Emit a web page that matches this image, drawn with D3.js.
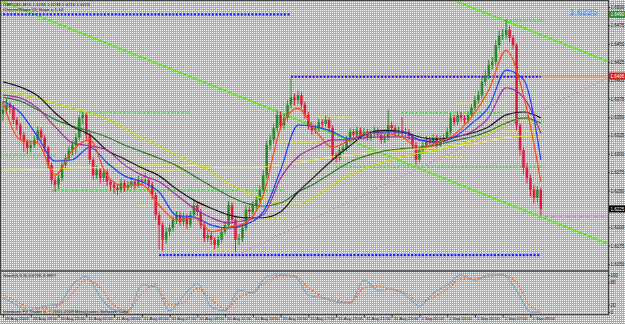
<!DOCTYPE html>
<html>
<head>
<meta charset="utf-8">
<script src="https://cdn.jsdelivr.net/npm/d3@7"></script>
<style>
html, body { margin: 0; padding: 0; background: #fff; }
svg { display: block; font-family: "Liberation Sans", Arial, sans-serif; }
.axis path, .axis line { stroke: #333; }
.axis text { fill: #222; font-size: 4.5px; }
</style>
</head>
<body>
<div id="chart"></div>
<script>
// ============================================================================
// GBPUSD M15 chart - candles, moving averages, levels, stochastic
// ============================================================================

const open = [1.6355,1.6360,1.6367,1.6363,1.6346,1.6339,1.6326,1.6316,1.6308,1.6312,
1.6319,1.6332,1.6322,1.6308,1.6285,1.6264,1.6258,1.6267,1.6285,1.6294,
1.6305,1.6312,1.6322,1.6349,1.6353,1.6326,1.6292,1.6271,1.6278,1.6267,
1.6275,1.6262,1.6258,1.6254,1.6251,1.6260,1.6254,1.6258,1.6262,1.6258,
1.6264,1.6262,1.6264,1.6258,1.6244,1.6217,1.6203,1.6183,1.6194,1.6199,
1.6210,1.6217,1.6207,1.6214,1.6204,1.6217,1.6230,1.6221,1.6203,1.6185,
1.6189,1.6183,1.6176,1.6183,1.6194,1.6203,1.6230,1.6210,1.6183,1.6185,
1.6199,1.6224,1.6221,1.6230,1.6237,1.6251,1.6271,1.6312,1.6319,1.6335,
1.6353,1.6339,1.6349,1.6367,1.6377,1.6373,1.6380,1.6367,1.6353,1.6339,
1.6332,1.6335,1.6343,1.6341,1.6346,1.6335,1.6298,1.6294,1.6305,1.6308,
1.6319,1.6330,1.6326,1.6332,1.6324,1.6330,1.6322,1.6327,1.6332,1.6326,
1.6319,1.6322,1.6339,1.6335,1.6328,1.6332,1.6327,1.6330,1.6324,1.6312,
1.6292,1.6305,1.6311,1.6319,1.6315,1.6322,1.6312,1.6319,1.6322,1.6330,
1.6349,1.6343,1.6353,1.6349,1.6346,1.6353,1.6363,1.6373,1.6380,1.6398,
1.6407,1.6421,1.6425,1.6448,1.6461,1.6462,1.6469,1.6458,1.6448,1.6339,
1.6305,1.6281,1.6267,1.6251,1.6240,1.6251];

const high = [1.6372,1.6375,1.6371,1.6366,1.6350,1.6342,1.6330,1.6320,1.6318,1.6324,
1.6338,1.6336,1.6326,1.6311,1.6288,1.6270,1.6272,1.6290,1.6299,1.6310,
1.6318,1.6328,1.6353,1.6358,1.6356,1.6330,1.6296,1.6284,1.6282,1.6281,
1.6279,1.6266,1.6262,1.6258,1.6266,1.6264,1.6263,1.6268,1.6266,1.6270,
1.6268,1.6275,1.6268,1.6262,1.6248,1.6221,1.6207,1.6200,1.6204,1.6215,
1.6222,1.6221,1.6220,1.6218,1.6222,1.6238,1.6234,1.6225,1.6207,1.6195,
1.6193,1.6187,1.6188,1.6199,1.6208,1.6236,1.6234,1.6214,1.6191,1.6204,
1.6230,1.6229,1.6236,1.6243,1.6257,1.6278,1.6318,1.6326,1.6341,1.6360,
1.6358,1.6355,1.6373,1.6403,1.6382,1.6386,1.6384,1.6371,1.6357,1.6343,
1.6340,1.6348,1.6347,1.6352,1.6350,1.6339,1.6302,1.6310,1.6313,1.6324,
1.6335,1.6334,1.6337,1.6336,1.6335,1.6334,1.6332,1.6337,1.6336,1.6330,
1.6327,1.6360,1.6344,1.6339,1.6337,1.6350,1.6335,1.6334,1.6327,1.6316,
1.6310,1.6316,1.6324,1.6323,1.6327,1.6326,1.6324,1.6327,1.6336,1.6355,
1.6353,1.6358,1.6357,1.6353,1.6358,1.6368,1.6379,1.6386,1.6404,1.6414,
1.6428,1.6432,1.6455,1.6468,1.6470,1.6483,1.6474,1.6462,1.6451,1.6342,
1.6309,1.6288,1.6272,1.6258,1.6256,1.6254];

const low = [1.6345,1.6356,1.6355,1.6340,1.6332,1.6320,1.6303,1.6300,1.6302,1.6308,
1.6315,1.6318,1.6302,1.6280,1.6258,1.6248,1.6252,1.6262,1.6280,1.6290,
1.6298,1.6300,1.6318,1.6340,1.6320,1.6286,1.6265,1.6266,1.6260,1.6262,
1.6256,1.6250,1.6246,1.6244,1.6247,1.6248,1.6250,1.6253,1.6252,1.6254,
1.6256,1.6258,1.6252,1.6238,1.6210,1.6170,1.6168,1.6178,1.6188,1.6194,
1.6205,1.6202,1.6202,1.6198,1.6200,1.6212,1.6216,1.6198,1.6180,1.6180,
1.6176,1.6170,1.6172,1.6179,1.6190,1.6198,1.6205,1.6166,1.6176,1.6180,
1.6195,1.6214,1.6217,1.6225,1.6232,1.6246,1.6266,1.6305,1.6314,1.6330,
1.6333,1.6334,1.6344,1.6362,1.6366,1.6368,1.6362,1.6348,1.6333,1.6326,
1.6327,1.6330,1.6336,1.6337,1.6330,1.6292,1.6288,1.6290,1.6300,1.6304,
1.6315,1.6321,1.6322,1.6320,1.6320,1.6318,1.6318,1.6323,1.6322,1.6314,
1.6315,1.6318,1.6330,1.6324,1.6324,1.6322,1.6322,1.6319,1.6306,1.6285,
1.6288,1.6300,1.6307,1.6310,1.6311,1.6307,1.6308,1.6315,1.6318,1.6326,
1.6338,1.6339,1.6344,1.6341,1.6342,1.6349,1.6359,1.6368,1.6375,1.6393,
1.6402,1.6415,1.6420,1.6443,1.6455,1.6457,1.6452,1.6442,1.6332,1.6298,
1.6272,1.6260,1.6242,1.6233,1.6234,1.6216];

const close = [1.6360,1.6367,1.6363,1.6346,1.6339,1.6326,1.6316,1.6308,1.6312,1.6319,
1.6332,1.6322,1.6308,1.6285,1.6264,1.6258,1.6267,1.6285,1.6294,1.6305,
1.6312,1.6322,1.6349,1.6353,1.6326,1.6292,1.6271,1.6278,1.6267,1.6275,
1.6262,1.6258,1.6254,1.6251,1.6260,1.6254,1.6258,1.6262,1.6258,1.6264,
1.6262,1.6264,1.6258,1.6244,1.6217,1.6203,1.6183,1.6194,1.6199,1.6210,
1.6217,1.6207,1.6214,1.6204,1.6217,1.6230,1.6221,1.6203,1.6185,1.6189,
1.6183,1.6176,1.6183,1.6194,1.6203,1.6230,1.6210,1.6183,1.6185,1.6199,
1.6224,1.6221,1.6230,1.6237,1.6251,1.6271,1.6312,1.6319,1.6335,1.6353,
1.6339,1.6349,1.6367,1.6377,1.6373,1.6380,1.6367,1.6353,1.6339,1.6332,
1.6335,1.6343,1.6341,1.6346,1.6335,1.6298,1.6294,1.6305,1.6308,1.6319,
1.6330,1.6326,1.6332,1.6324,1.6330,1.6322,1.6327,1.6332,1.6326,1.6319,
1.6322,1.6339,1.6335,1.6328,1.6332,1.6327,1.6330,1.6324,1.6312,1.6292,
1.6305,1.6311,1.6319,1.6315,1.6322,1.6312,1.6319,1.6322,1.6330,1.6349,
1.6343,1.6353,1.6349,1.6346,1.6353,1.6363,1.6373,1.6380,1.6398,1.6407,
1.6421,1.6425,1.6448,1.6461,1.6462,1.6469,1.6458,1.6448,1.6339,1.6305,
1.6281,1.6267,1.6251,1.6240,1.6251,1.6225];

// Moving averages, sampled every 5 bars
const maBars = [0,5,10,15,20,25,30,35,40,45,50,55,60,65,70,75,80,85,90,95,100,105,110,115,120,125,130,135,140,145,150,155];
const maFast = [1.6371,1.6319,1.6315,1.6271,1.6305,1.6319,1.6270,1.6256,1.6258,1.6230,1.6210,1.6213,1.6194,1.6200,1.6206,1.6244,
1.6335,1.6362,1.6332,1.6309,1.6319,1.6328,1.6328,1.6323,1.6308,1.6315,1.6326,1.6350,1.6387,1.6441,1.6380,1.6262];
const maBlue = [1.6372,1.6356,1.6323,1.6290,1.6292,1.6309,1.6288,1.6270,1.6262,1.6248,1.6216,1.6214,1.6203,1.6199,1.6204,1.6221,
1.6278,1.6339,1.6337,1.6330,1.6320,1.6327,1.6330,1.6330,1.6319,1.6316,1.6323,1.6341,1.6364,1.6414,1.6401,1.6292];
const maPurple = [1.6380,1.6376,1.6362,1.6337,1.6315,1.6311,1.6305,1.6285,1.6271,1.6262,1.6244,1.6226,1.6213,1.6206,1.6210,1.6217,
1.6267,1.6296,1.6309,1.6319,1.6319,1.6322,1.6323,1.6323,1.6319,1.6316,1.6322,1.6330,1.6350,1.6390,1.6377,1.6328];
const maBlack = [1.6398,1.6391,1.6379,1.6356,1.6337,1.6326,1.6305,1.6293,1.6281,1.6270,1.6252,1.6237,1.6226,1.6217,1.6213,1.6213,
1.6221,1.6248,1.6270,1.6292,1.6311,1.6328,1.6332,1.6330,1.6323,1.6320,1.6323,1.6328,1.6337,1.6353,1.6357,1.6349];
const maGreen = [1.6377,1.6372,1.6360,1.6347,1.6338,1.6331,1.6323,1.6312,1.6303,1.6294,1.6284,1.6270,1.6256,1.6243,1.6233,1.6229,
1.6233,1.6248,1.6260,1.6275,1.6289,1.6298,1.6304,1.6307,1.6309,1.6312,1.6318,1.6323,1.6331,1.6342,1.6349,1.6342];
const maLime = [1.6387,1.6381,1.6376,1.6369,1.6362,1.6356,1.6347,1.6335,1.6322,1.6311,1.6298,1.6288,1.6275,1.6260,1.6248,1.6239,
1.6233,1.6232,1.6243,1.6258,1.6271,1.6281,1.6289,1.6296,1.6301,1.6305,1.6311,1.6318,1.6327,1.6341,1.6349,1.6335];
const maPale = [1.6278,1.6278,1.6279,1.6279,1.6281,1.6281,1.6282,1.6284,1.6285,1.6285,1.6285,1.6284,1.6282,1.6281,1.6281,1.6282,
1.6285,1.6288,1.6292,1.6296,1.6298,1.6301,1.6304,1.6305,1.6307,1.6308,1.6311,1.6313,1.6318,1.6322,1.6324,1.6323];

// Horizontal level segments (bar from, bar to, price)
const levelKind  = ['blue','blue','blue','green','green','green','green','green','green',
                    'yellow','yellow','yellow','yellow','yellow','yellow','yellow','yellow','yellow','yellow'];
const levelFrom  = [-1, 83, 45, 22, -1, 14, 115, 96, 145, -1, 39, 39, 60, 76, 80, 91, 131, 126, 144];
const levelTo    = [83, 155, 155, 54, 15, 81, 144, 156, 156, 21, 53, 43, 66, 82, 91, 101, 144, 133, 156];
const levelPrice = [1.6490, 1.6405, 1.6162, 1.6357, 1.6298, 1.6250, 1.6356, 1.6282, 1.6481,
                    1.6339, 1.6278, 1.6230, 1.6169, 1.6212, 1.6316, 1.6350, 1.6369, 1.6296, 1.6331];

// Trend lines: two anchors each (bar, price)
const trendBars   = [[0, 155], [131, 155], [68.3, 155]];
const trendPrices = [[1.6507, 1.6214], [1.6507, 1.6462], [1.6164, 1.6360]];

// Stochastic(5,3,3), sampled every 4 bars
const stBars = [0,4,8,12,16,20,24,28,32,36,40,44,48,52,56,60,64,68,72,76,80,84,88,92,96,100,104,108,112,116,120,124,128,132,136,140,144,148,152,155];
const stochMain = [38,19,5,16,22,73,97,41,5,0,73,68,3,43,78,14,3,59,51,97,100,97,46,38,27,24,86,59,62,46,16,51,73,100,86,100,100,59,0,0];
const stochSignal = [45,28,12,10,18,50,88,65,18,4,50,75,20,25,65,35,8,40,55,82,98,98,65,42,32,25,65,70,60,52,28,40,62,90,90,95,100,80,15,3];

const priceTicks = [1.6500,1.6475,1.6450,1.6425,1.6400,1.6375,1.6350,1.6325,1.6300,1.6275,1.6250,1.6225,1.6200,1.6175,1.6150];
const timeBars = [0,8,16,24,32,40,48,56,64,72,80,88,96,104,112,120,128,136,144,152];
const timeLabels = ['28 Aug 2009','28 Aug 19:00','30 Aug 23:00','31 Aug 01:00','31 Aug 03:00','31 Aug 05:00',
  '31 Aug 07:00','31 Aug 09:00','31 Aug 11:00','31 Aug 13:00','31 Aug 15:00','31 Aug 17:00','31 Aug 19:00',
  '31 Aug 21:00','31 Aug 23:00','1 Sep 01:00','1 Sep 03:00','1 Sep 05:00','1 Sep 07:00','1 Sep 09:00'];

const bidPrice = 1.6225;
const orangeLevel = 1.6406;
const steelLevel = 1.6483;
const pinkLevel = 1.6215;

// ----------------------------------------------------------------------------
const W = 625, H = 324;
const svg = d3.select('#chart').append('svg').attr('width', W).attr('height', H);
const defs = svg.append('defs');

const pat = defs.append('pattern').attr('id', 'dots')
    .attr('width', 2).attr('height', 2).attr('patternUnits', 'userSpaceOnUse');
pat.append('rect').attr('width', 2).attr('height', 2).attr('fill', '#a3b4a3');
pat.append('rect').attr('width', 1).attr('height', 1).attr('fill', '#ffffff');
svg.append('rect').attr('width', W).attr('height', H).attr('fill', 'url(#dots)');

defs.append('clipPath').attr('id', 'clipMain').append('rect')
    .attr('x', 1).attr('y', 1).attr('width', 607).attr('height', 269);
defs.append('clipPath').attr('id', 'clipSub').append('rect')
    .attr('x', 1).attr('y', 272).attr('width', 607).attr('height', 42);

const x = d3.scaleLinear().domain([0, 175]).range([3, 610.25]);
const y = d3.scaleLinear().domain([1.6150, 1.6500]).range([264, 7]);
const ys = d3.scaleLinear().domain([0, 100]).range([312, 275]);

const main = svg.append('g').attr('clip-path', 'url(#clipMain)');
const sub = svg.append('g').attr('clip-path', 'url(#clipSub)');

// Full width lines
main.append('line').attr('x1', 0).attr('x2', 608)
    .attr('y1', y(steelLevel)).attr('y2', y(steelLevel))
    .attr('stroke', '#8ea4cc').attr('stroke-width', 1);
main.append('line').attr('x1', 0).attr('x2', 608)
    .attr('y1', y(bidPrice)).attr('y2', y(bidPrice))
    .attr('stroke', '#c4ccc4').attr('stroke-width', 1);
main.append('line').attr('x1', x(83)).attr('x2', 608)
    .attr('y1', y(orangeLevel)).attr('y2', y(orangeLevel))
    .attr('stroke', '#ff7f3a').attr('stroke-width', 1);
main.append('line').attr('x1', x(156)).attr('x2', 608)
    .attr('y1', y(pinkLevel)).attr('y2', y(pinkLevel))
    .attr('stroke', '#c080c0').attr('stroke-width', 1).attr('stroke-dasharray', '4,1,1,1');

// Trend lines, extended over the whole window
const trendStyle = [
    { color: '#55ee11', width: 1.4 },
    { color: '#55ee11', width: 1.4 },
    { color: '#c8a0cc', width: 1 }
];
trendBars.forEach((b, i) => {
    const p = trendPrices[i];
    const slope = (p[1] - p[0]) / (b[1] - b[0]);
    const bStart = i === 2 ? b[0] : -2;
    main.append('line')
        .attr('x1', x(bStart)).attr('y1', y(p[0] + (bStart - b[0]) * slope))
        .attr('x2', x(176)).attr('y2', y(p[0] + (176 - b[0]) * slope))
        .attr('stroke', trendStyle[i].color).attr('stroke-width', trendStyle[i].width);
});

// Dotted levels
const levelStyle = {
    blue: { color: '#1a1aff', width: 2.2, dash: '2,1.6' },
    green: { color: '#3ed63e', width: 1.6, dash: '1.6,1.8' },
    yellow: { color: '#e4e41c', width: 1.6, dash: '1.6,1.8' }
};
levelKind.forEach((k, i) => {
    const s = levelStyle[k];
    main.append('line')
        .attr('x1', x(levelFrom[i])).attr('x2', x(levelTo[i]))
        .attr('y1', y(levelPrice[i])).attr('y2', y(levelPrice[i]))
        .attr('stroke', s.color).attr('stroke-width', s.width)
        .attr('stroke-dasharray', s.dash);
});

// Moving averages
const maLine = d3.line().x(d => x(d[0])).y(d => y(d[1])).curve(d3.curveMonotoneX);
const maSeries = [
    { v: maPale, color: '#e8e850', width: 1 },
    { v: maLime, color: '#c8dc10', width: 1.2 },
    { v: maGreen, color: '#2c7c2c', width: 1.2 },
    { v: maBlack, color: '#1a1a1a', width: 1.2 },
    { v: maPurple, color: '#a42ca4', width: 1.2 },
    { v: maBlue, color: '#2040ff', width: 1.2 },
    { v: maFast, color: '#ff4a10', width: 1.2 }
];

// Candles
const bars = d3.range(close.length);
const candles = main.append('g');
candles.selectAll('.wick')
    .data(bars)
    .join('line')
    .attr('x1', i => x(i)).attr('x2', i => x(i))
    .attr('y1', i => y(high[i])).attr('y2', i => y(low[i]))
    .attr('stroke', i => close[i] >= open[i] ? '#2a8a2a' : '#dc1c3c')
    .attr('stroke-width', 1);
candles.selectAll('.body')
    .data(bars)
    .join('rect')
    .attr('x', i => x(i) - 1.25)
    .attr('width', 2.5)
    .attr('y', i => y(Math.max(open[i], close[i])))
    .attr('height', i => Math.max(1, Math.abs(y(open[i]) - y(close[i]))))
    .attr('fill', i => close[i] >= open[i] ? '#2a8a2a' : '#dc1c3c');

maSeries.forEach(s => {
    main.append('path')
        .datum(maBars.map((b, i) => [b, s.v[i]]))
        .attr('d', maLine)
        .attr('fill', 'none')
        .attr('stroke', s.color)
        .attr('stroke-width', s.width);
});

// Stochastic
const stLine = d3.line().x(d => x(d[0])).y(d => ys(d[1])).curve(d3.curveMonotoneX);
sub.append('path')
    .datum(stBars.map((b, i) => [b, stochMain[i]]))
    .attr('d', stLine).attr('fill', 'none')
    .attr('stroke', '#86aac4').attr('stroke-width', 1.3);
sub.append('path')
    .datum(stBars.map((b, i) => [b, stochSignal[i]]))
    .attr('d', stLine).attr('fill', 'none')
    .attr('stroke', '#ff5a00').attr('stroke-width', 1.3).attr('stroke-dasharray', '1.2,2.3');

// Frames
svg.append('rect').attr('x', 0.5).attr('y', 0.5).attr('width', 608).attr('height', 314)
    .attr('fill', 'none').attr('stroke', '#444').attr('stroke-width', 1);
svg.append('line').attr('x1', 0).attr('x2', 609).attr('y1', 271).attr('y2', 271)
    .attr('stroke', '#4a404a').attr('stroke-width', 1.6);

// Right price axis
svg.append('g')
    .attr('class', 'axis')
    .attr('transform', 'translate(608.5,0)')
    .call(d3.axisRight(y).tickValues(priceTicks).tickSize(1.5).tickPadding(0.5).tickFormat(d3.format('.4f')))
    .call(g => g.select('.domain').remove());

svg.append('g')
    .attr('class', 'axis')
    .attr('transform', 'translate(608.5,0)')
    .call(d3.axisRight(ys).tickValues([0, 20, 80, 100]).tickSize(1.5).tickPadding(0.5))
    .call(g => g.select('.domain').remove());

// Time axis
svg.append('g')
    .attr('class', 'axis')
    .attr('transform', 'translate(0,314.5)')
    .call(d3.axisBottom(x).tickValues(timeBars).tickSize(3).tickFormat((d, i) => timeLabels[i]))
    .call(g => g.select('.domain').remove())
    .call(g => g.selectAll('text').attr('text-anchor', 'start').attr('dx', 1.5).attr('dy', -0.5)
        .style('font-size', '4.2px'));

// Price boxes on the axis
const boxes = [
    { p: 1.6490, fill: '#2e8b2e', text: '1.6490' },
    { p: orangeLevel, fill: '#d42020', text: '1.6406' },
    { p: bidPrice, fill: '#000000', text: '1.6225' }
];
boxes.forEach(b => {
    svg.append('rect').attr('x', 609).attr('y', y(b.p) - 3.5).attr('width', 16).attr('height', 7)
        .attr('fill', b.fill);
    svg.append('text').attr('x', 610.5).attr('y', y(b.p) + 1.6)
        .attr('fill', '#fff').style('font-size', '4.5px').text(b.text);
});

// Labels
svg.append('text').attr('x', 3).attr('y', 5.5)
    .style('font-size', '4.4px').attr('fill', '#111')
    .text('GBPUSD,M15  1.6236 1.6238 1.6216 1.6225');
svg.append('text').attr('x', 3).attr('y', 10.5)
    .style('font-size', '4.4px').attr('fill', '#111')
    .text('ChannelSlope (2)  Slope = 1.14');
svg.append('text').attr('x', 597).attr('y', 15).attr('text-anchor', 'end')
    .style('font-size', '9px').attr('fill', '#4f8ee6')
    .text('1.6225');
svg.append('text').attr('x', 3).attr('y', 277)
    .style('font-size', '4.4px').attr('fill', '#111')
    .text('Stoch(5,3,3) 0.6726 4.9977');
svg.append('text').attr('x', 3).attr('y', 313)
    .style('font-size', '4.4px').attr('fill', '#111')
    .text('Interbank FX Trader 4, © 2001-2009 MetaQuotes Software Corp.');
</script>
</body>
</html>
